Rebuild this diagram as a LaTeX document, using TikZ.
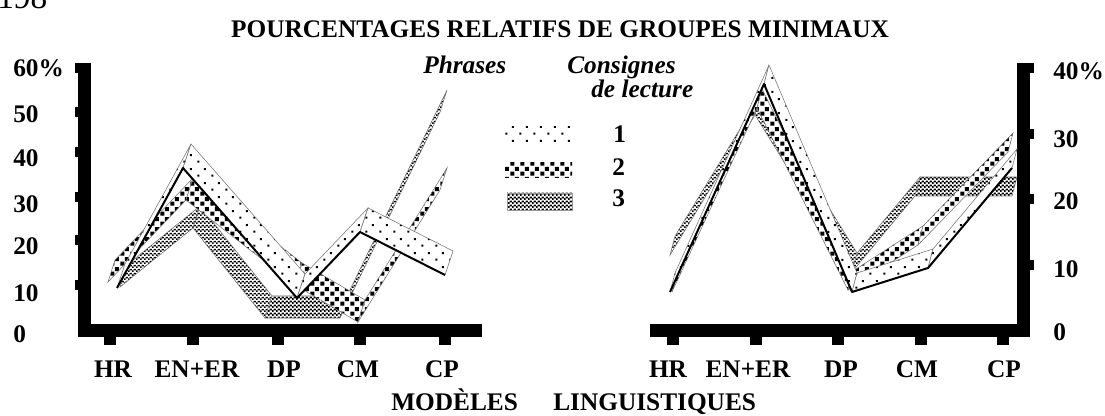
\documentclass[tikz,border=0pt]{standalone}
\usepackage{fontspec}
\setmainfont{Liberation Serif}
\usetikzlibrary{patterns.meta}
\tikzdeclarepattern{name=pdots, type=colored, bottom left={(0pt,0pt)}, top right={(10.5pt,10.5pt)}, tile size={(10.5pt,10.5pt)},
  code={\fill[black] (1pt,1pt) rectangle (2.6pt,2.6pt); \fill[black] (6.25pt,6.25pt) rectangle (7.85pt,7.85pt);}}
\tikzdeclarepattern{name=psq, type=colored, bottom left={(0pt,0pt)}, top right={(7.5pt,7.5pt)}, tile size={(7.5pt,7.5pt)},
  code={\fill[black] (0.3pt,0.3pt) rectangle (3.5pt,3.5pt); \fill[black] (4.05pt,4.05pt) rectangle (7.25pt,7.25pt);}}
\tikzdeclarepattern{name=pchk, type=colored, bottom left={(0pt,0pt)}, top right={(3pt,3pt)}, tile size={(3pt,3pt)},
  code={\fill[black] (0pt,0pt) rectangle (1.6pt,1.6pt); \fill[black] (1.5pt,1.5pt) rectangle (3pt,3pt);}}
\newcommand\rseg[7]{\path[rib, pattern=#1] (#2,#3) -- (#4,#5) -- ++(#6,#7) -- ++(#2-#4,#3-#5) -- cycle;}
\begin{document}
\begin{tikzpicture}[x=0.75pt,y=-0.75pt,
  lab/.style={font=\fontsize{19}{22}\selectfont\bfseries, inner sep=0pt, anchor=base},
  labw/.style={lab, anchor=base west},
  ital/.style={font=\fontsize{19}{22}\selectfont\bfseries\itshape, inner sep=0pt, anchor=base west},
  axisbar/.style={fill=black},
  rib/.style={preaction={fill=white}, draw=black!55, line width=0.4pt},
  front/.style={draw=black, line width=1.5pt, line join=round}]
\useasboundingbox (0,0) rectangle (1105,416);

% page number (cut at top)
\node[inner sep=0pt, anchor=base west, font=\fontsize{25}{28}\selectfont] (pg) at (-3,9) {198};

% title
\node[lab] (title) at (560,38) {POURCENTAGES RELATIFS DE GROUPES MINIMAUX};

% ---------- left axes ----------
\fill[axisbar] (78,63) rectangle (91,337);
\fill[axisbar] (78,324) rectangle (482,337);
\foreach \y in {63,107,147,192,235,280} \fill[axisbar] (75,\y) rectangle (79,\y+10);
\foreach \x in {110,193,278,360,445} \fill[axisbar] (\x-6,336) rectangle (\x+6,345);
\node[labw] (l60) at (13,77) {60\%};
\node[labw] (l50) at (13,123) {50};
\node[labw] (l40) at (13,167) {40};
\node[labw] (l30) at (13,213) {30};
\node[labw] (l20) at (13,255) {20};
\node[labw] (l10) at (13,301) {10};
\node[labw] (l0) at (13,342) {0};
\node[lab] (lhr) at (113,377) {HR};
\node[lab] (len) at (197,377) {EN+ER};
\node[lab] (ldp) at (284,377) {DP};
\node[lab] (lcm) at (358,377) {CM};
\node[lab] (lcp) at (442,377) {CP};

% ---------- right axes ----------
\fill[axisbar] (1017,63) rectangle (1030,337);
\fill[axisbar] (650,324) rectangle (1030,337);
\foreach \y in {63,129,194,260} \fill[axisbar] (1029,\y) rectangle (1034,\y+10);
\foreach \x in {673,756,838,921,1003} \fill[axisbar] (\x-6,336) rectangle (\x+6,345);
\node[labw] (r40) at (1053,80) {40\%};
\node[labw] (r30) at (1053,148) {30};
\node[labw] (r20) at (1053,210) {20};
\node[labw] (r10) at (1053,277) {10};
\node[labw] (r0) at (1053,340) {0};
\node[lab] (rhr) at (668,377) {HR};
\node[lab] (ren) at (748,377) {EN+ER};
\node[lab] (rdp) at (841,377) {DP};
\node[lab] (rcm) at (917,377) {CM};
\node[lab] (rcp) at (1004,377) {CP};

\node[labw] (mod) at (391,410) {MODÈLES};
\node[labw] (ling) at (553,410) {LINGUISTIQUES};

% ---------- left ribbons ----------
% series 3 (fine checker)
\rseg{pchk}{120}{287}{193}{228}{7}{-22}
\rseg{pchk}{193}{228}{265}{318}{7}{-22}
\rseg{pchk}{265}{318}{340}{318}{7}{-22}
\rseg{pchk}{340}{318}{440}{112}{7}{-22}
% series 2 (squares)
\rseg{psq}{108}{282}{186}{200}{7}{-22}
\rseg{psq}{186}{200}{295}{285}{7}{-22}
\rseg{psq}{295}{285}{358}{322}{7}{-22}
\rseg{psq}{358}{322}{440}{190}{7}{-22}
% series 1 (dots)
\rseg{pdots}{117}{288}{183}{168}{8}{-24}
\rseg{pdots}{183}{168}{297}{298}{8}{-24}
\rseg{pdots}{297}{298}{360}{232}{8}{-24}
\rseg{pdots}{360}{232}{445}{275}{8}{-24}
\draw[front] (117,288) -- (183,168) -- (297,298) -- (360,232) -- (445,275);

% ---------- right ribbons ----------
\rseg{pchk}{670}{255}{755}{115}{5}{-19}
\rseg{pchk}{755}{115}{852}{272}{5}{-19}
\rseg{pchk}{852}{272}{915}{196}{5}{-19}
\rseg{pchk}{915}{196}{1012}{196}{5}{-19}
\rseg{psq}{672}{292}{757}{108}{5}{-19}
\rseg{psq}{757}{108}{848}{290}{5}{-19}
\rseg{psq}{848}{290}{918}{245}{5}{-19}
\rseg{psq}{918}{245}{1008}{152}{5}{-19}
\rseg{pdots}{670}{292}{764}{84}{5}{-19}
\rseg{pdots}{764}{84}{852}{292}{5}{-19}
\rseg{pdots}{852}{292}{928}{268}{5}{-19}
\rseg{pdots}{928}{268}{1012}{168}{5}{-19}
\draw[front] (670,292) -- (764,84) -- (852,292) -- (928,268) -- (1012,168);

% ---------- legend ----------
\node[ital] (phr) at (423,74) {Phrases};
\node[ital] (cons) at (567,74) {Consignes};
\node[ital] (lect) at (591,98) {de lecture};
\fill[pattern=pdots] (505,127) rectangle (572,142);
\fill[pattern=psq] (505,163) rectangle (572,178);
\path[pattern=pchk, draw=black!40, line width=0.4pt] (507,193) rectangle (572,210);
\node[labw] (k1) at (613,143) {1};
\node[labw] (k2) at (612,176) {2};
\node[labw] (k3) at (612,207) {3};
\end{tikzpicture}
\end{document}
